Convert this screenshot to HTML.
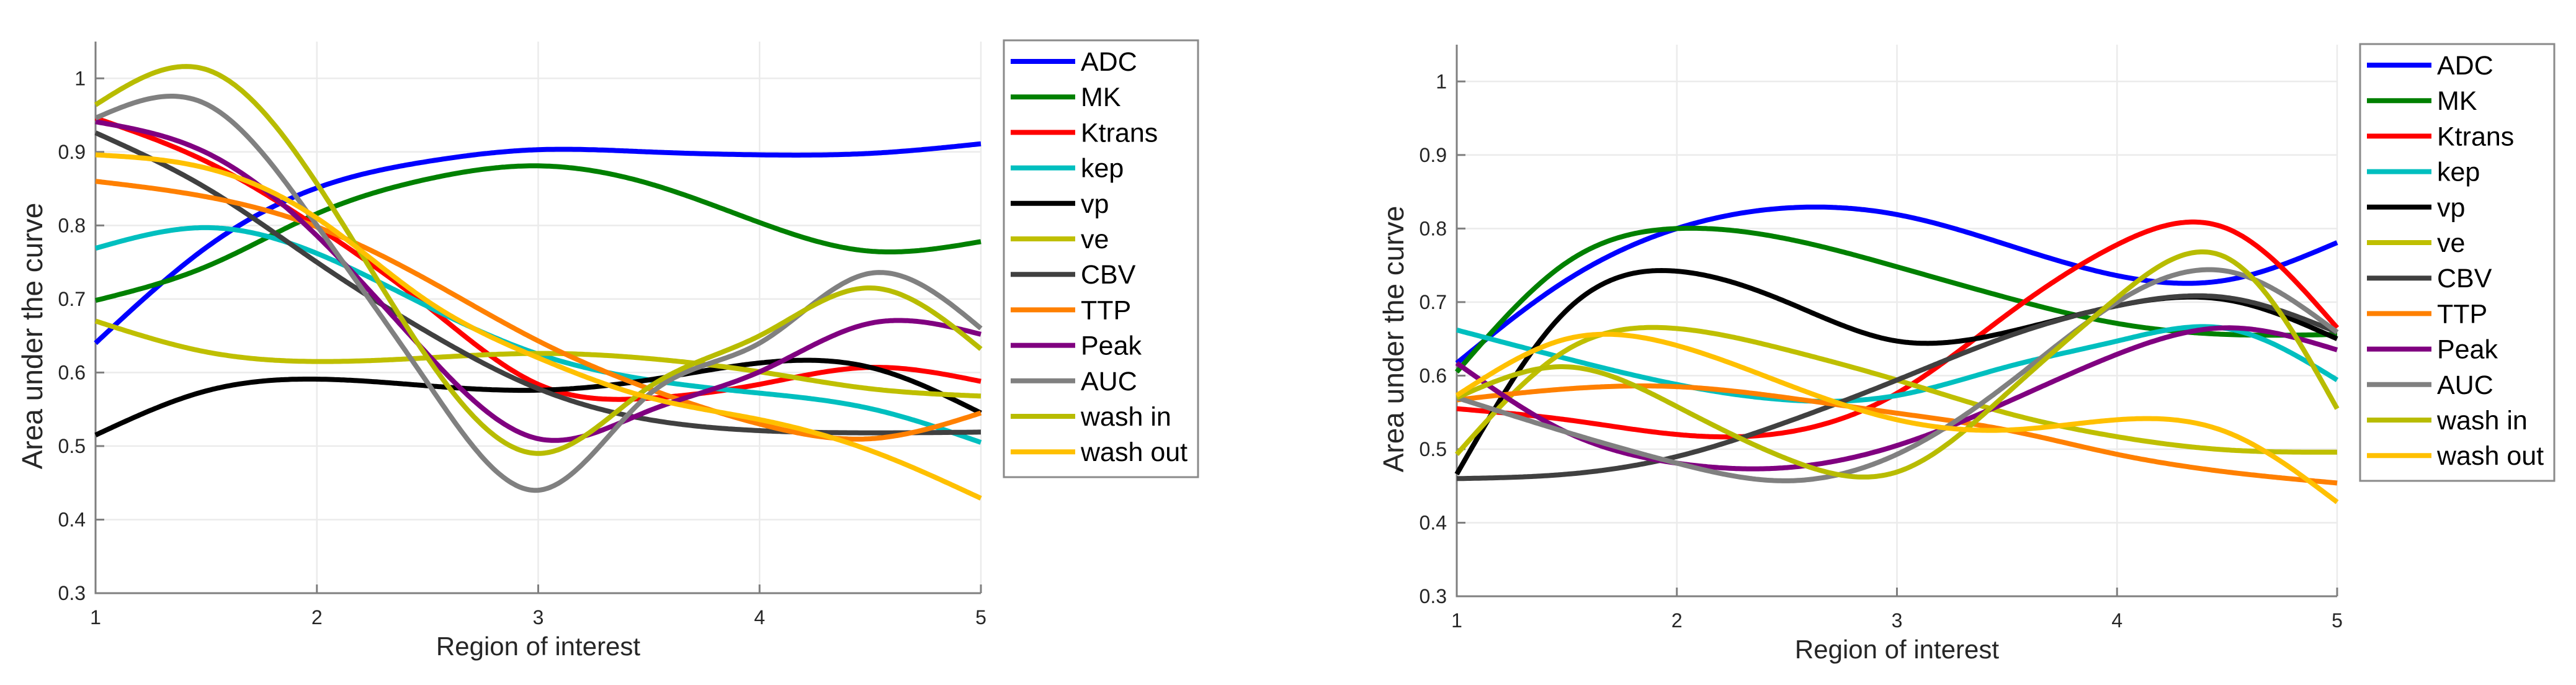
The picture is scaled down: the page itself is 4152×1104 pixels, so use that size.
<!DOCTYPE html>
<html><head><meta charset="utf-8"><style>
html,body{margin:0;padding:0;background:#fff;}
svg{display:block;font-family:"Liberation Sans",Arial,sans-serif;}
</style></head><body>
<svg id="chart" width="4152" height="1104" viewBox="0 0 4152 1104" xmlns="http://www.w3.org/2000/svg"></svg>
<script>
const seriesNames = ["ADC","MK","Ktrans","kep","vp","ve","CBV","TTP","Peak","AUC","wash in","wash out"];
const seriesColors = ["#0000ff","#008000","#ff0000","#00bfbf","#000000","#bfbf00","#404040","#ff8000","#800080","#808080","#b8bc00","#ffc000"];
const xSamples = [1,1.5,2,2.5,3,3.5,4,4.5,5];
const xTicks = [1,2,3,4,5];
const yTicks = [0.3,0.4,0.5,0.6,0.7,0.8,0.9,1];
const yTickLabels = ["0.3","0.4","0.5","0.6","0.7","0.8","0.9","1"];
const leftADC = [0.64,0.77,0.851,0.887,0.903,0.90,0.896,0.898,0.911];
const leftMK = [0.698,0.744,0.816,0.863,0.881,0.857,0.804,0.765,0.778];
const leftKtrans = [0.946,0.887,0.798,0.69,0.584,0.565,0.584,0.607,0.588];
const leftKep = [0.769,0.797,0.762,0.69,0.625,0.59,0.572,0.551,0.505];
const leftVp = [0.515,0.575,0.591,0.582,0.576,0.59,0.613,0.607,0.545];
const leftVe = [0.67,0.628,0.615,0.62,0.626,0.619,0.601,0.578,0.568];
const leftCBV = [0.926,0.851,0.75,0.655,0.578,0.536,0.521,0.518,0.519];
const leftTTP = [0.86,0.839,0.798,0.726,0.643,0.578,0.53,0.51,0.545];
const leftPeak = [0.941,0.899,0.786,0.625,0.51,0.548,0.601,0.667,0.652];
const leftAUC = [0.946,0.965,0.80,0.586,0.44,0.57,0.64,0.735,0.66];
const leftWashIn = [0.964,1.012,0.857,0.62,0.49,0.58,0.65,0.715,0.632];
const leftWashOut = [0.896,0.878,0.81,0.697,0.62,0.566,0.536,0.494,0.429];
const rightADC = [0.617,0.73,0.80,0.828,0.819,0.778,0.736,0.73,0.781];
const rightMK = [0.605,0.754,0.80,0.786,0.748,0.706,0.671,0.656,0.656];
const rightKtrans = [0.555,0.54,0.52,0.523,0.576,0.683,0.778,0.80,0.665];
const rightKep = [0.662,0.623,0.588,0.567,0.573,0.612,0.647,0.664,0.594];
const rightVp = [0.466,0.689,0.742,0.70,0.647,0.659,0.695,0.703,0.65];
const rightVe = [0.493,0.635,0.664,0.635,0.594,0.549,0.517,0.499,0.496];
const rightCBV = [0.46,0.466,0.49,0.537,0.594,0.653,0.695,0.706,0.659];
const rightTTP = [0.567,0.582,0.585,0.57,0.549,0.526,0.493,0.469,0.454];
const rightPeak = [0.617,0.523,0.481,0.475,0.505,0.564,0.629,0.665,0.635];
const rightAUC = [0.57,0.523,0.481,0.457,0.493,0.588,0.70,0.742,0.659];
const rightWashIn = [0.57,0.612,0.558,0.487,0.469,0.576,0.706,0.76,0.555];
const rightWashOut = [0.573,0.65,0.641,0.588,0.54,0.526,0.54,0.523,0.428];
const leftData = [leftADC,leftMK,leftKtrans,leftKep,leftVp,leftVe,leftCBV,leftTTP,leftPeak,leftAUC,leftWashIn,leftWashOut];
const rightData = [rightADC,rightMK,rightKtrans,rightKep,rightVp,rightVe,rightCBV,rightTTP,rightPeak,rightAUC,rightWashIn,rightWashOut];

const NS="http://www.w3.org/2000/svg";
const svg=document.getElementById('chart');
function mk(tag,attrs,parent){const e=document.createElementNS(NS,tag);for(const k in attrs)e.setAttribute(k,attrs[k]);(parent||svg).appendChild(e);return e;}

function spline(xs,ys){
  const n=xs.length,h=[],a=[],l=[1],mu=[0],z=[0],c=new Array(n).fill(0),b=[],d=[];
  for(let i=0;i<n-1;i++)h.push(xs[i+1]-xs[i]);
  for(let i=1;i<n-1;i++)a[i]=3/h[i]*(ys[i+1]-ys[i])-3/h[i-1]*(ys[i]-ys[i-1]);
  for(let i=1;i<n-1;i++){l[i]=2*(xs[i+1]-xs[i-1])-h[i-1]*mu[i-1];mu[i]=h[i]/l[i];z[i]=(a[i]-h[i-1]*z[i-1])/l[i];}
  for(let j=n-2;j>=0;j--){c[j]=(j<n-1&&j>0)?z[j]-mu[j]*c[j+1]:(j===0?0:c[j]);if(j===0)c[0]=0;b[j]=(ys[j+1]-ys[j])/h[j]-h[j]*(c[j+1]+2*c[j])/3;d[j]=(c[j+1]-c[j])/(3*h[j]);}
  return function(x){let i=Math.min(n-2,Math.max(0,Math.floor((x-xs[0])/h[0])));const dx=x-xs[i];return ys[i]+b[i]*dx+c[i]*dx*dx+d[i]*dx*dx*dx;};
}

function panel(cfg,data,id){
  const g=mk('g',{});
  
  
  const X=v=>cfg.x0+(v-1)/4*(cfg.x1-cfg.x0);
  const Y=v=>cfg.yb-(v-0.3)/0.75*(cfg.yb-cfg.yt);
  const grid=mk('g',{stroke:'#ebebeb','stroke-width':2.5},g);
  
  
  xTicks.forEach(t=>{if(t>1)mk('line',{x1:X(t),x2:X(t),y1:cfg.yt,y2:cfg.yb},grid);});
  yTicks.forEach(t=>{if(t>0.3)mk('line',{x1:cfg.x0,x2:cfg.x1,y1:Y(t),y2:Y(t)},grid);});
  const ax=mk('g',{stroke:'#7f7f7f','stroke-width':3,fill:'none'},g);
  
  
  mk('line',{x1:cfg.x0,x2:cfg.x0,y1:cfg.yt,y2:cfg.yb+1.5},ax);
  mk('line',{x1:cfg.x0,x2:cfg.x1,y1:cfg.yb,y2:cfg.yb},ax);
  xTicks.forEach(t=>mk('line',{x1:X(t),x2:X(t),y1:cfg.yb,y2:cfg.yb-14},ax));
  yTicks.forEach(t=>mk('line',{x1:cfg.x0,x2:cfg.x0+14,y1:Y(t),y2:Y(t)},ax));
  xTicks.forEach(t=>{const e=mk('text',{x:X(t),y:cfg.yb+50,'font-size':32,'text-anchor':'middle',fill:'#262626'},g);e.textContent=String(t);
    
    });
  yTicks.forEach((t,i)=>{const e=mk('text',{x:cfg.x0-16,y:Y(t)+11,'font-size':32,'text-anchor':'end',fill:'#262626'},g);e.textContent=yTickLabels[i];
    
    });
  const xt=mk('text',{x:(cfg.x0+cfg.x1)/2,y:cfg.yb+100,'font-size':42,'text-anchor':'middle',fill:'#262626'},g);xt.textContent='Region of interest';
  
  
  const cy=(cfg.yt+cfg.yb)/2+30;
  const yt=mk('text',{x:0,y:0,'font-size':46,'text-anchor':'middle',fill:'#262626',transform:`translate(${cfg.x0-86},${cy}) rotate(-90)`},g);yt.textContent='Area under the curve';
  
  
  data.forEach((vals,si)=>{
    const f=spline(xSamples,vals);let d='';
    for(let k=0;k<=400;k++){const xv=1+4*k/400;d+=(k?'L':'M')+X(xv).toFixed(1)+','+Y(f(xv)).toFixed(1);}
    const p=mk('path',{d:d,fill:'none',stroke:seriesColors[si],'stroke-width':8,'stroke-linejoin':'round'},g);
    
    
  });
  const lg=mk('g',{},g);
  
  
  mk('rect',{x:cfg.lx,y:cfg.ly,width:313,height:704,fill:'#fff',stroke:'#8a8a8a','stroke-width':3},lg);
  seriesNames.forEach((nm,si)=>{
    const yy=cfg.ly+34+si*57.2;
    const ln=mk('line',{x1:cfg.lx+11,x2:cfg.lx+115,y1:yy,y2:yy,stroke:seriesColors[si],'stroke-width':8},lg);
    
    
    const t=mk('text',{x:cfg.lx+124,y:yy+15,'font-size':43,fill:'#000'},lg);t.textContent=nm;
    
    
  });
}
panel({x0:154,x1:1581,yt:67,yb:956,lx:1618,ly:65},leftData,'left');
panel({x0:2348,x1:3767,yt:72,yb:961,lx:3804,ly:71},rightData,'right');
</script>
</body></html>
